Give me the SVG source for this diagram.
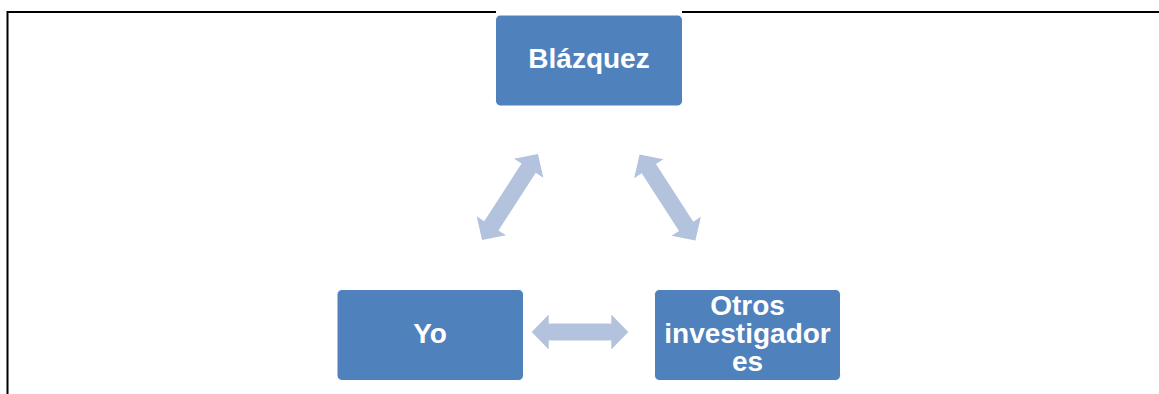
<svg xmlns="http://www.w3.org/2000/svg" width="1159" height="394" viewBox="0 0 1159 394">
<defs>
<style>
.frame{stroke:#000;stroke-width:2;fill:none}
.box{fill:#4f81bd;stroke:#ffffff;stroke-width:1}
.lbl{font-family:"Liberation Sans",Arial,sans-serif;font-weight:bold;font-size:28px;fill:#fff;text-anchor:middle}
.arr{fill:#b3c3dd}
</style>
<path id="dbl" d="M -48.3 0 L -31.3 -17.5 L -31.3 -8.5 L 31.3 -8.5 L 31.3 -17.5 L 48.3 0 L 31.3 17.5 L 31.3 8.5 L -31.3 8.5 L -31.3 17.5 Z"/>
<path id="dblL" d="M -51.3 0 L -34.3 -17.5 L -34.3 -8.5 L 34.3 -8.5 L 34.3 -17.5 L 51.3 0 L 34.3 17.5 L 34.3 8.5 L -34.3 8.5 L -34.3 17.5 Z"/>
</defs>
<rect width="1159" height="394" fill="#fff"/>
<g id="frame">
<path class="frame" d="M 7.5 394 L 7.5 12 L 496 12"/>
<path class="frame" d="M 682 12 L 1159 12"/>
</g>
<g id="connectors">
<use href="#dblL" class="arr" transform="translate(510,197) rotate(-57)"/>
<use href="#dblL" class="arr" transform="translate(667.5,197.5) rotate(57)"/>
<use href="#dbl" class="arr" transform="translate(580,332)"/>
</g>
<g id="node-blazquez">
<rect class="box" x="495.5" y="15" width="187" height="91" rx="5"/>
<text class="lbl" x="589" y="68">Blázquez</text>
</g>
<g id="node-yo">
<rect class="box" x="337" y="289.5" width="186.5" height="91" rx="5"/>
<text class="lbl" x="430" y="343">Yo</text>
</g>
<g id="node-otros">
<rect class="box" x="654.5" y="289.5" width="186" height="91" rx="5"/>
<text class="lbl" x="747.5" y="315">Otros</text>
<text class="lbl" x="747.5" y="343">investigador</text>
<text class="lbl" x="747.5" y="371">es</text>
</g>
</svg>
